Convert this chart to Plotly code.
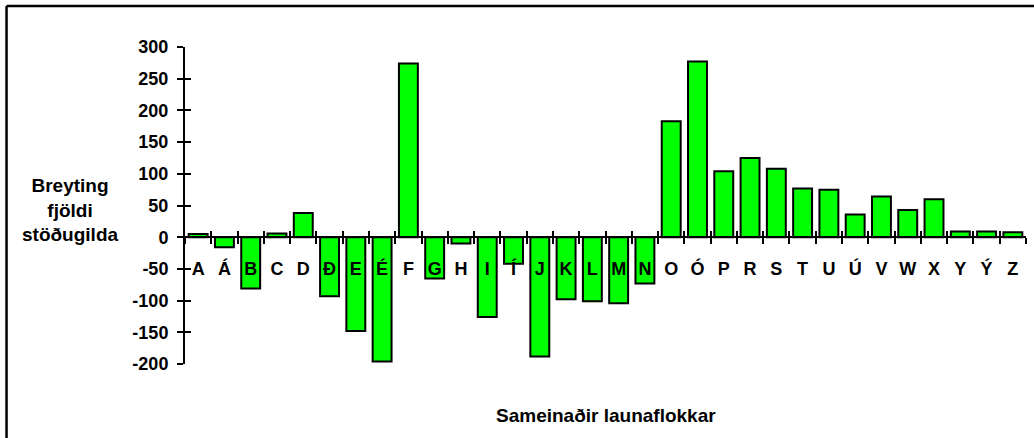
import plotly.graph_objects as go

categories = ["A", "Á", "B", "C", "D", "Ð", "E", "É", "F", "G", "H", "I", "Í", "J", "K", "L",
              "M", "N", "O", "Ó", "P", "R", "S", "T", "U", "Ú", "V", "W", "X", "Y", "Ý", "Z"]
values = [5, -16, -81, 6, 38, -93, -148, -196, 274, -65, -10, -126, -42, -188, -98, -101,
          -104, -73, 183, 277, 104, 125, 108, 77, 75, 36, 64, 43, 60, 9, 9, 8]
y_ticks = [-200, -150, -100, -50, 0, 50, 100, 150, 200, 250, 300]
y_tick_labels = [str(v) for v in y_ticks]
y_title = "Breyting<br>fjöldi<br>stöðugilda"
x_title = "Sameinaðir launaflokkar"

FONT = "Arial, Liberation Sans, sans-serif"
yr = [-200, 300]
zero_pos = (0 - yr[0]) / (yr[1] - yr[0])

fig = go.Figure()
fig.add_trace(go.Bar(
    x=categories, y=values,
    marker=dict(color="#00FF00", line=dict(color="black", width=2)),
    showlegend=False,
))
# empty helper trace so the overlay axes (inner tick halves) are drawn
fig.add_trace(go.Scatter(x=[], y=[], xaxis="x2", yaxis="y2", showlegend=False))

fig.update_layout(
    width=1034, height=438,
    margin=dict(l=185, r=8, t=47, b=74, autoexpand=False),
    paper_bgcolor="white", plot_bgcolor="white",
    bargap=0.28,
    font=dict(family=FONT, size=18, color="black"),
    xaxis=dict(
        type="category", categoryorder="array", categoryarray=categories,
        range=[-0.5, len(categories) - 0.5],
        anchor="free", position=zero_pos, automargin=False,
        showline=True, linecolor="black", linewidth=2,
        ticks="outside", tickson="boundaries", ticklen=6, tickwidth=2, tickcolor="black",
        tickangle=0,
        tickfont=dict(family=FONT, size=18, color="black", weight="bold"),
        ticklabelstandoff=15,
        showgrid=False, zeroline=False,
    ),
    yaxis=dict(
        range=yr, tickvals=y_ticks, ticktext=y_tick_labels, automargin=False,
        showline=True, linecolor="black", linewidth=2,
        ticks="outside", ticklen=6, tickwidth=2, tickcolor="black",
        tickfont=dict(family=FONT, size=18, color="black", weight="bold"),
        ticklabelstandoff=5,
        showgrid=False, zeroline=False,
    ),
    xaxis2=dict(
        type="category", categoryorder="array", categoryarray=categories,
        range=[-0.5, len(categories) - 0.5], automargin=False,
        overlaying="x", anchor="free", position=zero_pos,
        showline=False, ticks="inside", tickson="boundaries", ticklen=6, tickwidth=2,
        tickcolor="black", showticklabels=False, showgrid=False, zeroline=False,
    ),
    yaxis2=dict(
        range=yr, tickvals=y_ticks, overlaying="y", anchor="x", side="left", automargin=False,
        showline=False, ticks="inside", ticklen=6, tickwidth=2, tickcolor="black",
        showticklabels=False, showgrid=False, zeroline=False,
    ),
    annotations=[
        dict(text=y_title, xref="paper", yref="paper", x=-0.137, y=0.485,
             xanchor="center", yanchor="middle", showarrow=False, align="center",
             font=dict(family=FONT, size=19, color="black", weight="bold")),
        dict(text=x_title, xref="paper", yref="paper", x=0.5, y=-0.161,
             xanchor="center", yanchor="middle", showarrow=False,
             font=dict(family=FONT, size=19, color="black", weight="bold")),
    ],
    shapes=[
        dict(type="line", xref="paper", yref="paper", x0=-0.2122, x1=1.03, y0=1.1293, y1=1.1293,
             line=dict(color="black", width=2.5)),
        dict(type="line", xref="paper", yref="paper", x0=-0.2122, x1=-0.2122, y0=1.1293, y1=-0.3,
             line=dict(color="black", width=2.5)),
    ],
)

fig.write_html(
    "out.html",
    config={"displayModeBar": False},
    post_script="document.body.style.margin='0';document.body.style.overflow='hidden';",
)
